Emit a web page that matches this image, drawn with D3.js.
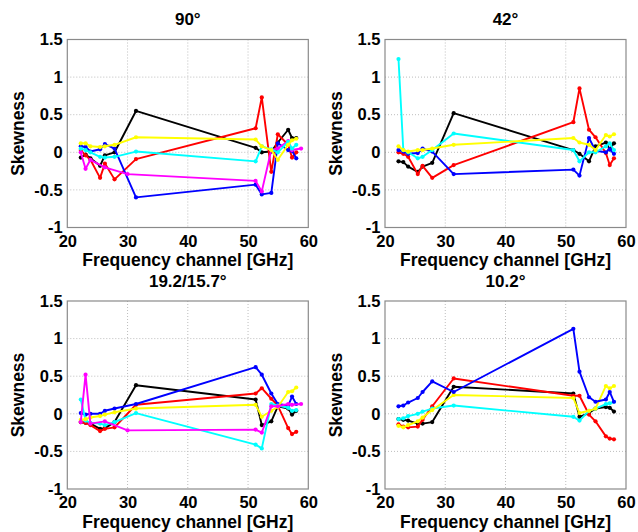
<!DOCTYPE html>
<html><head><meta charset="utf-8">
<script src="https://cdn.jsdelivr.net/npm/d3@7"></script>
<style>body{margin:0;background:#fff}svg{display:block}text{font-family:"Liberation Sans",Arial,sans-serif;font-weight:bold;fill:#000}</style>
</head><body>
<script>
// Channel frequencies (GHz)
const chA = [22.24, 23.04, 23.84, 25.44, 26.24, 27.84, 31.4, 51.26, 52.28, 53.86, 54.94, 56.66, 57.3, 58.0];
const chB = [22.23, 23.03, 23.83, 26.23, 30.0, 51.25, 52.28, 53.85, 54.94, 56.66, 57.29, 58.8];
const xTicks = [20, 30, 40, 50, 60];
const yTicks = [-1, -0.5, 0, 0.5, 1, 1.5];
const titles = ["90°", "42°", "19.2/15.7°", "10.2°"];

// Panel 90°
const p90Black   = [-0.07, -0.03, -0.08, -0.18, -0.04, 0.0, 0.55, 0.06, 0.0, 0.01, 0.13, 0.3, 0.19, 0.19];
const p90Yellow  = [0.12, 0.12, 0.08, 0.07, 0.08, 0.1, 0.2, 0.17, 0.08, 0.03, -0.1, 0.1, 0.16, 0.18];
const p90Cyan    = [0.05, 0.03, 0.0, -0.06, -0.07, -0.06, 0.01, -0.12, 0.08, 0.04, 0.0, 0.14, 0.05, 0.1];
const p90Red     = [0.03, -0.04, -0.1, -0.34, -0.15, -0.36, -0.09, 0.32, 0.73, -0.26, 0.24, 0.1, -0.07, 0.0];
const p90Blue    = [0.08, 0.07, 0.01, 0.04, 0.11, 0.05, -0.6, -0.43, -0.56, -0.54, 0.12, 0.03, 0.02, -0.08];
const p90Magenta = [0.0, -0.22, -0.1, -0.2, -0.29, -0.38, -0.52, 0.03, 0.05, 0.15, 0.03, 0.05];
// Panel 42°
const p42Black   = [-0.12, -0.13, -0.19, -0.26, -0.19, -0.14, 0.52, 0.03, -0.02, -0.12, 0.08, 0.13, 0.04, 0.12];
const p42Yellow  = [0.08, 0.03, 0.01, 0.03, 0.03, 0.05, 0.1, 0.19, 0.13, 0.1, 0.03, 0.23, 0.21, 0.24];
const p42Cyan    = [1.24, 0.03, 0.0, -0.08, -0.06, 0.03, 0.25, 0.03, -0.12, 0.0, 0.0, 0.08, 0.12, 0.03];
const p42Red     = [0.0, -0.02, -0.06, -0.29, -0.18, -0.34, -0.17, 0.4, 0.85, 0.3, 0.2, -0.01, -0.17, -0.08];
const p42Blue    = [0.03, 0.01, -0.02, -0.01, 0.05, 0.01, -0.29, -0.23, -0.31, 0.19, 0.02, 0.0, 0.04, -0.02];
// Panel 19.2/15.7°
const p19Black   = [-0.11, -0.12, -0.13, -0.2, -0.19, -0.11, 0.38, 0.19, -0.15, -0.1, 0.1, 0.07, -0.01, 0.04];
const p19Yellow  = [-0.08, -0.07, -0.05, -0.03, -0.01, 0.02, 0.07, 0.12, -0.04, 0.04, 0.09, 0.29, 0.3, 0.35];
const p19Cyan    = [0.19, -0.09, -0.12, -0.13, -0.15, -0.11, 0.01, -0.41, -0.46, 0.13, 0.11, 0.08, 0.04, 0.05];
const p19Red     = [-0.11, -0.12, -0.15, -0.23, -0.2, -0.18, 0.12, 0.27, 0.34, 0.2, 0.11, -0.19, -0.27, -0.24];
const p19Blue    = [0.01, -0.01, 0.0, 0.0, 0.04, 0.07, 0.13, 0.62, 0.52, 0.27, 0.13, 0.11, 0.23, 0.13];
const p19Magenta = [-0.11, 0.52, -0.13, -0.1, -0.22, -0.21, -0.25, 0.1, 0.1, 0.13, 0.12, 0.13];
// Panel 10.2°
const p10Black   = [-0.07, -0.08, -0.09, -0.13, -0.13, -0.11, 0.36, 0.27, -0.04, 0.01, 0.07, 0.09, 0.08, 0.03];
const p10Yellow  = [-0.16, -0.18, -0.15, -0.1, -0.05, 0.05, 0.25, 0.21, 0.01, 0.04, 0.07, 0.37, 0.34, 0.37];
const p10Cyan    = [-0.07, -0.06, -0.03, 0.0, 0.03, 0.07, 0.11, -0.04, -0.09, 0.04, 0.07, 0.13, 0.14, 0.16];
const p10Red     = [-0.14, -0.17, -0.18, -0.17, -0.08, 0.1, 0.47, 0.24, 0.24, -0.01, -0.1, -0.3, -0.33, -0.34];
const p10Blue    = [0.1, 0.11, 0.15, 0.21, 0.29, 0.43, 0.29, 1.13, 0.56, 0.22, 0.16, 0.19, 0.29, 0.16];

const colors = {black:"#000000", yellow:"#ffff00", cyan:"#00ffff", red:"#ff0000", blue:"#0000ff", magenta:"#ff00ff"};

const panels = [
  {title: titles[0], series: [["black",chA,p90Black],["red",chA,p90Red],["blue",chA,p90Blue],["magenta",chB,p90Magenta],["cyan",chA,p90Cyan],["yellow",chA,p90Yellow]]},
  {title: titles[1], series: [["black",chA,p42Black],["red",chA,p42Red],["blue",chA,p42Blue],["cyan",chA,p42Cyan],["yellow",chA,p42Yellow]]},
  {title: titles[2], series: [["black",chA,p19Black],["red",chA,p19Red],["blue",chA,p19Blue],["cyan",chA,p19Cyan],["yellow",chA,p19Yellow],["magenta",chB,p19Magenta]]},
  {title: titles[3], series: [["black",chA,p10Black],["red",chA,p10Red],["cyan",chA,p10Cyan],["yellow",chA,p10Yellow],["blue",chA,p10Blue]]}
];

const W = 638, H = 532;
const svg = d3.select("body").append("svg").attr("width", W).attr("height", H);
const pw = 241, ph = 188;
const origins = [[67.3, 39.5], [385, 39.5], [67.3, 301], [385, 301]];
const fmt = d => String(d);

panels.forEach((p, i) => {
  const [ox, oy] = origins[i];
  const g = svg.append("g").attr("transform", `translate(${ox},${oy})`);
  const x = d3.scaleLinear().domain([20, 60]).range([0, pw]);
  const y = d3.scaleLinear().domain([-1, 1.5]).range([ph, 0]);

  // grid
  g.append("g").selectAll("line").data(xTicks.slice(1, -1)).join("line")
    .attr("x1", d => x(d)).attr("x2", d => x(d)).attr("y1", 0).attr("y2", ph)
    .attr("stroke", "#bdbdbd").attr("stroke-width", 1).attr("stroke-dasharray", "1,2");
  g.append("g").selectAll("line").data(yTicks.slice(1, -1)).join("line")
    .attr("y1", d => y(d)).attr("y2", d => y(d)).attr("x1", 0).attr("x2", pw)
    .attr("stroke", "#bdbdbd").attr("stroke-width", 1).attr("stroke-dasharray", "1,2");

  // series
  const line = d3.line().x(d => x(d[0])).y(d => y(d[1]));
  p.series.forEach(([c, ch, vals]) => {
    const pts = ch.map((f, k) => [f, vals[k]]);
    g.append("path").datum(pts).attr("d", line).attr("fill", "none")
      .attr("stroke", colors[c]).attr("stroke-width", 1.9).attr("stroke-linejoin", "round");
    g.append("g").selectAll("circle").data(pts).join("circle")
      .attr("cx", d => x(d[0])).attr("cy", d => y(d[1])).attr("r", 2.1).attr("fill", colors[c]);
  });

  // box
  g.append("rect").attr("x", 0).attr("y", 0).attr("width", pw).attr("height", ph)
    .attr("fill", "none").attr("stroke", "#8a8a8a").attr("stroke-width", 1.2);

  // axes
  const xa = g.append("g").attr("transform", `translate(0,${ph})`)
    .call(d3.axisBottom(x).tickValues(xTicks).tickSize(0).tickPadding(7.6).tickFormat(fmt));
  const ya = g.append("g")
    .call(d3.axisLeft(y).tickValues(yTicks).tickSize(0).tickPadding(4.6).tickFormat(fmt));
  [xa, ya].forEach(a => {
    a.select(".domain").remove();
    a.selectAll("text").attr("font-size", 16.5).attr("font-family", "'Liberation Sans', Arial, sans-serif").attr("font-weight", "bold").attr("fill", "#000");
  });

  // title
  g.append("text").attr("x", pw / 2).attr("y", -14.5).attr("text-anchor", "middle")
    .attr("font-size", 17).text(p.title);
  // x label
  g.append("text").attr("x", pw / 2).attr("y", ph + 38.5).attr("text-anchor", "middle")
    .attr("font-size", 17.5).text("Frequency channel [GHz]");
  // y label
  g.append("text").attr("transform", `translate(${24 - 67.3},${ph / 2}) rotate(-90)`)
    .attr("text-anchor", "middle").attr("font-size", 17.5).text("Skewness");
});
</script>
</body></html>
